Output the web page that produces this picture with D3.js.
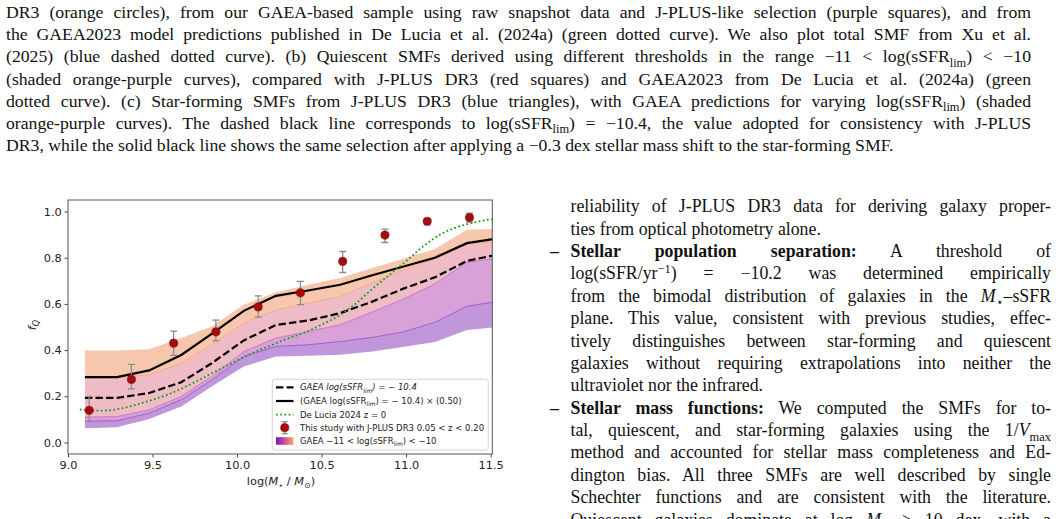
<!DOCTYPE html>
<html><head><meta charset="utf-8">
<script src="https://cdn.jsdelivr.net/npm/d3@7"></script>
<style>
html,body{margin:0;padding:0;background:#fff;}
svg{display:block;}
</style></head>
<body>
<script>
// ---------------- DATA ----------------
const massGrid = [9.10, 9.29, 9.48, 9.67, 9.85, 10.04, 10.23, 10.42, 10.61, 10.80, 10.98, 11.17, 11.36, 11.55];
const gaeaDashed = [0.193, 0.193, 0.214, 0.261, 0.343, 0.442, 0.509, 0.528, 0.560, 0.610, 0.665, 0.715, 0.786, 0.815];
const gaeaShifted = [0.283, 0.283, 0.312, 0.379, 0.470, 0.570, 0.635, 0.658, 0.683, 0.724, 0.761, 0.800, 0.863, 0.885];
const bandTop = [0.398, 0.398, 0.404, 0.452, 0.502, 0.596, 0.651, 0.683, 0.712, 0.756, 0.795, 0.838, 0.921, 0.925];
const bandEdge1 = [0.279, 0.280, 0.293, 0.343, 0.423, 0.517, 0.574, 0.603, 0.632, 0.690, 0.745, 0.795, 0.858, 0.872];
const bandEdge2 = [0.110, 0.112, 0.141, 0.199, 0.286, 0.394, 0.452, 0.480, 0.510, 0.565, 0.620, 0.686, 0.780, 0.800];
const bandEdge3 = [0.092, 0.094, 0.127, 0.185, 0.271, 0.372, 0.416, 0.423, 0.437, 0.455, 0.478, 0.520, 0.590, 0.612];
const bandBottom = [0.062, 0.066, 0.102, 0.156, 0.242, 0.329, 0.372, 0.375, 0.380, 0.394, 0.413, 0.435, 0.487, 0.500];

const deLuciaMass = [9.07, 9.1, 9.2, 9.3, 9.4, 9.5, 9.6, 9.7, 9.8, 9.9, 10.0, 10.1, 10.2, 10.3, 10.4, 10.5, 10.6, 10.7, 10.8, 10.9, 11.0, 11.1, 11.2, 11.3, 11.4, 11.5, 11.55];
const deLuciaFq = [0.143, 0.140, 0.138, 0.145, 0.163, 0.185, 0.210, 0.243, 0.280, 0.318, 0.355, 0.390, 0.420, 0.450, 0.476, 0.510, 0.548, 0.600, 0.665, 0.725, 0.785, 0.848, 0.900, 0.932, 0.952, 0.966, 0.970];

const jplusMass = [9.125, 9.375, 9.625, 9.875, 10.125, 10.375, 10.625, 10.875, 11.125, 11.375];
const jplusFq = [0.139, 0.273, 0.430, 0.479, 0.587, 0.648, 0.784, 0.898, 0.958, 0.974];
const jplusErrLow = [0.048, 0.041, 0.053, 0.039, 0.044, 0.051, 0.048, 0.032, 0.016, 0.020];
const jplusErrHigh = [0.060, 0.065, 0.052, 0.051, 0.048, 0.050, 0.043, 0.026, 0.010, 0.019];

const xTicks = [9.0, 9.5, 10.0, 10.5, 11.0, 11.5];
const yTicks = [0.0, 0.2, 0.4, 0.6, 0.8, 1.0];

// ---------------- TEXT ----------------
const captionLines = [
  [["DR3 (orange circles), from our GAEA-based sample using raw snapshot data and J-PLUS-like selection (purple squares), and from"]],
  [["the GAEA2023 model predictions published in De Lucia et al. (2024a) (green dotted curve). We also plot total SMF from Xu et al."]],
  [["(2025) (blue dashed dotted curve). (b) Quiescent SMFs derived using different thresholds in the range \u221211 < log(sSFR"], ["lim", "sub"], [") < \u221210"]],
  [["(shaded orange-purple curves), compared with J-PLUS DR3 (red squares) and GAEA2023 from De Lucia et al. (2024a) (green"]],
  [["dotted curve). (c) Star-forming SMFs from J-PLUS DR3 (blue triangles), with GAEA predictions for varying log(sSFR"], ["lim", "sub"], [") (shaded"]],
  [["orange-purple curves). The dashed black line corresponds to log(sSFR"], ["lim", "sub"], [") = \u221210.4, the value adopted for consistency with J-PLUS"]],
  [["DR3, while the solid black line shows the same selection after applying a \u22120.3 dex stellar mass shift to the star-forming SMF."]]
];
const captionJustify = [true, true, true, true, true, true, false];

const bodyLines = [
  [["reliability of J-PLUS DR3 data for deriving galaxy proper-"]],
  [["ties from optical photometry alone."]],
  [["Stellar population separation:", "bold"], [" A threshold of"]],
  [["log(sSFR/yr"], ["\u22121", "sup"], [") = \u221210.2 was determined empirically"]],
  [["from the bimodal distribution of galaxies in the "], ["M", "ital"], ["\u22c6", "sub"], ["\u2013sSFR"]],
  [["plane. This value, consistent with previous studies, effec-"]],
  [["tively distinguishes between star-forming and quiescent"]],
  [["galaxies without requiring extrapolations into neither the"]],
  [["ultraviolet nor the infrared."]],
  [["Stellar mass functions:", "bold"], [" We computed the SMFs for to-"]],
  [["tal, quiescent, and star-forming galaxies using the 1/"], ["V", "ital"], ["max", "sub"]],
  [["method and accounted for stellar mass completeness and Ed-"]],
  [["dington bias. All three SMFs are well described by single"]],
  [["Schechter functions and are consistent with the literature."]],
  [["Quiescent galaxies dominate at log "], ["M", "ital"], ["\u22c6", "sub"], [" > 10 dex, with a"]]
];
const bodyJustify = [true, false, true, true, true, true, true, true, false, true, true, true, true, true, true];
const bodyBullets = [2, 9];

// ---------------- DRAW ----------------
const W = 1058, H = 519;
const svg = d3.select("body").append("svg").attr("width", W).attr("height", H);
const SERIF = "'Liberation Serif', 'Times New Roman', serif";
const SANS = "'DejaVu Sans', sans-serif";

function drawLine(parent, x, y, width, segs, size, family, justify) {
  const t = parent.append("text").attr("x", x).attr("y", y)
    .attr("font-family", family).attr("font-size", size).attr("fill", "#111");
  let shift = 0;
  segs.forEach(sg => {
    const txt = sg[0];
    const st = (sg[1] || "").split(" ");
    const sp = t.append("tspan").text(txt);
    let target = 0;
    if (st.includes("sub")) target = size * 0.25;
    if (st.includes("sup")) target = -size * 0.38;
    if (target !== shift) { sp.attr("dy", target - shift); shift = target; }
    if (st.includes("sub") || st.includes("sup")) sp.attr("font-size", size * 0.7);
    if (st.includes("bold")) sp.attr("font-weight", "bold");
    if (st.includes("ital")) sp.attr("font-style", "italic");
  });
  if (justify) {
    const nat = t.node().getComputedTextLength();
    const n = (t.text().match(/ /g) || []).length;
    if (n > 0) t.attr("word-spacing", (width - nat) / n);
  }
  return t;
}

const capG = svg.append("g");
captionLines.forEach((segs, i) => {
  drawLine(capG, 6, 18 + 22.17 * i, 1025, segs, 17.7, SERIF, captionJustify[i]);
});
const bodyG = svg.append("g");
bodyLines.forEach((segs, i) => {
  const y = 212.3 + 22.38 * i;
  drawLine(bodyG, 570.5, y, 480.5, segs, 17.8, SERIF, bodyJustify[i]);
  if (bodyBullets.includes(i)) {
    bodyG.append("text").attr("x", 550).attr("y", y).attr("font-family", SERIF)
      .attr("font-size", 17.8).attr("font-weight", "bold").attr("fill", "#111").text("\u2013");
  }
});

// chart
const L = 68, R = 492.3, T = 200, B = 454;
const x = d3.scaleLinear().domain([9.0, 11.51]).range([L, R]);
const y = d3.scaleLinear().domain([-0.05, 1.05]).range([B, T]);

const defs = svg.append("defs");
defs.append("clipPath").attr("id", "clip").append("rect")
  .attr("x", L).attr("y", T).attr("width", R - L).attr("height", B - T);
const grad = defs.append("linearGradient").attr("id", "bandGrad");
grad.append("stop").attr("offset", "0%").attr("stop-color", "#7d12b8");
grad.append("stop").attr("offset", "50%").attr("stop-color", "#cf4f9e");
grad.append("stop").attr("offset", "100%").attr("stop-color", "#fdaa62");

const plot = svg.append("g").attr("clip-path", "url(#clip)");
const bounds = [bandTop, bandEdge1, bandEdge2, bandEdge3, bandBottom];
const fills = ["#f7c7ad", "#efbcc6", "#d8a1d7", "#bf97da"];
for (let k = 0; k < 4; k++) {
  const hi = bounds[k], lo = bounds[k + 1];
  const area = d3.area().x((d, i) => x(massGrid[i])).y0((d, i) => y(lo[i])).y1((d, i) => y(hi[i]));
  plot.append("path").datum(massGrid).attr("d", area).attr("fill", fills[k]).attr("stroke", "none");
}
const edgeColors = ["#f4a587", "#c66ec8", "#a052ce"];
[bandEdge1, bandEdge2, bandEdge3].forEach((arr, k) => {
  const ln = d3.line().x((d, i) => x(massGrid[i])).y((d, i) => y(arr[i]));
  plot.append("path").datum(massGrid).attr("d", ln).attr("fill", "none")
    .attr("stroke", edgeColors[k]).attr("stroke-width", 0.9);
});

const lineGen = arr => d3.line().x((d, i) => x(massGrid[i])).y((d, i) => y(arr[i]));
plot.append("path").datum(massGrid).attr("d", lineGen(gaeaShifted)).attr("fill", "none")
  .attr("stroke", "#000").attr("stroke-width", 2.2);
plot.append("path").datum(massGrid).attr("d", lineGen(gaeaDashed)).attr("fill", "none")
  .attr("stroke", "#000").attr("stroke-width", 2.2).attr("stroke-dasharray", "7.4,3.2");

const dl = d3.line().curve(d3.curveMonotoneX).x((d, i) => x(deLuciaMass[i])).y((d, i) => y(deLuciaFq[i]));
plot.append("path").datum(deLuciaMass).attr("d", dl).attr("fill", "none")
  .attr("stroke", "#1e9a1e").attr("stroke-width", 1.8).attr("stroke-dasharray", "1.8,2.4");

const pts = plot.append("g");
jplusMass.forEach((m, i) => {
  const cx = x(m), lo = y(jplusFq[i] - jplusErrLow[i]), hi = y(jplusFq[i] + jplusErrHigh[i]);
  pts.append("line").attr("x1", cx).attr("x2", cx).attr("y1", lo).attr("y2", hi).attr("stroke", "#8c8c8c").attr("stroke-width", 1.3);
  [lo, hi].forEach(v => pts.append("line").attr("x1", cx - 3.5).attr("x2", cx + 3.5).attr("y1", v).attr("y2", v).attr("stroke", "#8c8c8c").attr("stroke-width", 1.3));
  pts.append("circle").attr("cx", cx).attr("cy", y(jplusFq[i])).attr("r", 4.1).attr("fill", "#a30d0d").attr("stroke", "#8b0000").attr("stroke-width", 0.6);
});

// axes
const xAxis = svg.append("g").attr("transform", `translate(0,${B})`)
  .call(d3.axisBottom(x).tickValues(xTicks).tickFormat(d3.format(".1f")).tickSize(3.5).tickPadding(3.5));
const yAxis = svg.append("g").attr("transform", `translate(${L},0)`)
  .call(d3.axisLeft(y).tickValues(yTicks).tickFormat(d3.format(".1f")).tickSize(3.5).tickPadding(2.8));
[xAxis, yAxis].forEach(a => {
  a.select(".domain").remove();
  a.selectAll(".tick line").attr("stroke", "#333").attr("stroke-width", 0.9);
  a.selectAll(".tick text").attr("font-family", SANS).attr("font-size", 11.3).attr("fill", "#222");
});
svg.append("rect").attr("x", L).attr("y", T).attr("width", R - L).attr("height", B - T)
  .attr("fill", "none").attr("stroke", "#555").attr("stroke-width", 1);

// axis labels
const xl = svg.append("text").attr("x", 281).attr("y", 485).attr("text-anchor", "middle")
  .attr("font-family", SANS).attr("font-size", 11.3).attr("fill", "#222");
xl.append("tspan").text("log(");
xl.append("tspan").attr("font-style", "italic").text("M");
xl.append("tspan").attr("font-size", 8).attr("dy", 2.5).text("\u22c6");
xl.append("tspan").attr("dy", -2.5).text(" / ");
xl.append("tspan").attr("font-style", "italic").text("M");
xl.append("tspan").attr("font-size", 8).attr("dy", 2.5).text("\u2299");
xl.append("tspan").attr("dy", -2.5).text(")");

const yl = svg.append("text").attr("transform", "translate(36,325) rotate(-90)").attr("text-anchor", "middle")
  .attr("font-family", SANS).attr("font-size", 11.3).attr("fill", "#222");
yl.append("tspan").attr("font-style", "italic").text("f");
yl.append("tspan").attr("font-style", "italic").attr("font-size", 8).attr("dy", 2.5).text("Q");

// legend
const lg = svg.append("g");
lg.append("rect").attr("x", 272.3).attr("y", 379.3).attr("width", 216).attr("height", 70.7).attr("rx", 2.5)
  .attr("fill", "#fff").attr("fill-opacity", 0.85).attr("stroke", "#d0d0d0").attr("stroke-width", 0.9);
const rows = [387.3, 401, 414.7, 427.7, 441];
const hx0 = 276, hx1 = 293.5, tx = 300, LFS = 8.5;
lg.append("line").attr("x1", hx0).attr("x2", hx1).attr("y1", rows[0]).attr("y2", rows[0])
  .attr("stroke", "#000").attr("stroke-width", 2.2).attr("stroke-dasharray", "7.4,3.2");
lg.append("line").attr("x1", hx0).attr("x2", hx1).attr("y1", rows[1]).attr("y2", rows[1])
  .attr("stroke", "#000").attr("stroke-width", 2.2);
lg.append("line").attr("x1", hx0).attr("x2", hx1).attr("y1", rows[2]).attr("y2", rows[2])
  .attr("stroke", "#1e9a1e").attr("stroke-width", 1.8).attr("stroke-dasharray", "1.8,2.4");
const hc = (hx0 + hx1) / 2;
lg.append("line").attr("x1", hc).attr("x2", hc).attr("y1", rows[3] - 6).attr("y2", rows[3] + 6).attr("stroke", "#8c8c8c").attr("stroke-width", 1.3);
[rows[3] - 6, rows[3] + 6].forEach(v => lg.append("line").attr("x1", hc - 3).attr("x2", hc + 3).attr("y1", v).attr("y2", v).attr("stroke", "#8c8c8c").attr("stroke-width", 1.3));
lg.append("circle").attr("cx", hc).attr("cy", rows[3]).attr("r", 4.1).attr("fill", "#a30d0d").attr("stroke", "#8b0000").attr("stroke-width", 0.6);
lg.append("rect").attr("x", hx0).attr("y", rows[4] - 3.8).attr("width", hx1 - hx0).attr("height", 7.6).attr("fill", "url(#bandGrad)");

const legendLabels = [
  [["GAEA log(sSFR", "ital"], ["lim", "sub ital"], [") = \u2212 10.4", "ital"]],
  [["(GAEA log(sSFR"], ["lim", "sub"], [") = \u2212 10.4) \u00d7 (0.50)"]],
  [["De Lucia 2024 z = 0"]],
  [["This study with J-PLUS DR3 0.05 < z < 0.20"]],
  [["GAEA \u221211 < log(sSFR"], ["lim", "sub"], [") < \u221210"]]
];
legendLabels.forEach((segs, i) => {
  drawLine(lg, tx, rows[i] + 3.1, 0, segs, LFS, SANS, false).attr("fill", "#222");
});
</script>
</body></html>
